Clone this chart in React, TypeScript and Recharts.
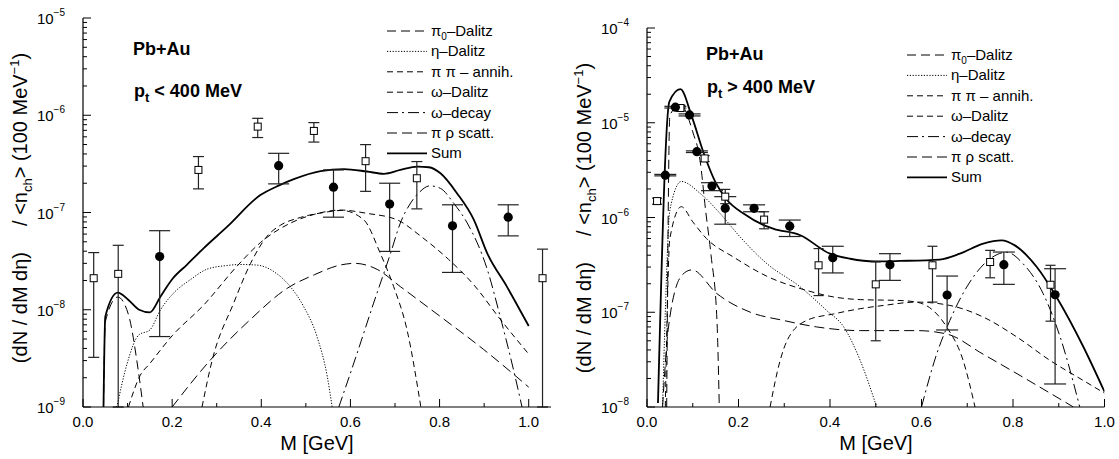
import React from 'react';
import { ComposedChart, ErrorBar, Line, Scatter, XAxis, YAxis } from 'recharts';

// Dilepton mass spectra, Pb+Au — two panels (pt < 400 MeV / pt > 400 MeV).
type Pt = [number, number]; // [M (GeV), dN/dM]
type Obs = [number, number, number, number]; // [M, value, low, high]

const FONT = '"Liberation Sans", Arial, Helvetica, sans-serif';

// ---- left panel: p_t < 400 MeV (curves end where they meet the 1e-9 frame) ----
const leftPi0: Pt[] = [[0.046, 1e-9], [0.05, 7.5e-9], [0.078, 1.35e-8], [0.102, 8.9e-9], [0.125, 2.2e-9], [0.135, 1e-9]];
const leftEta: Pt[] = [[0.076, 1e-9], [0.099, 2.8e-9], [0.125, 5.5e-9], [0.15, 6.2e-9], [0.174, 1e-8], [0.203, 1.48e-8], [0.241, 2.04e-8], [0.278, 2.61e-8], [0.323, 2.85e-8], [0.353, 2.92e-8], [0.39, 2.88e-8], [0.428, 2.47e-8], [0.465, 1.73e-8], [0.495, 1.08e-8], [0.525, 5.3e-9], [0.548, 2.06e-9], [0.559, 1e-9]];
const leftPiPi: Pt[] = [[0.267, 1e-9], [0.29, 3.05e-9], [0.338, 1.17e-8], [0.376, 3.0e-8], [0.413, 5.7e-8], [0.443, 7.4e-8], [0.488, 8.9e-8], [0.54, 1.0e-7], [0.58, 1.05e-7], [0.63, 8.4e-8], [0.667, 3.8e-8], [0.697, 1.73e-8], [0.727, 6.2e-9], [0.758, 1e-9]];
const leftOmDalitz: Pt[] = [[0.102, 1e-9], [0.128, 2.1e-9], [0.15, 2.8e-9], [0.2, 5.4e-9], [0.271, 1.12e-8], [0.346, 2.82e-8], [0.398, 4.9e-8], [0.466, 7.8e-8], [0.52, 9.6e-8], [0.578, 1.06e-7], [0.637, 9.8e-8], [0.705, 8.4e-8], [0.76, 5.6e-8], [0.82, 3.3e-8], [0.877, 1.8e-8], [0.936, 8e-9], [1.0, 3.5e-9]];
const leftOmDecay: Pt[] = [[0.574, 1e-9], [0.615, 3.57e-9], [0.652, 1.17e-8], [0.69, 3.8e-8], [0.712, 7.8e-8], [0.735, 1.25e-7], [0.755, 1.62e-7], [0.778, 1.88e-7], [0.802, 1.77e-7], [0.832, 1.24e-7], [0.862, 7.8e-8], [0.907, 2.6e-8], [0.936, 8.5e-9], [0.966, 2.4e-9], [0.985, 1e-9]];
const leftPiRho: Pt[] = [[0.2, 1e-9], [0.286, 3.05e-9], [0.375, 7.9e-9], [0.458, 1.66e-8], [0.52, 2.3e-8], [0.577, 2.88e-8], [0.61, 3.0e-8], [0.66, 2.6e-8], [0.712, 1.73e-8], [0.802, 8.5e-9], [0.899, 3.9e-9], [1.0, 1.6e-9]];
const leftSum: Pt[] = [[0.046, 1e-9], [0.05, 8.5e-9], [0.078, 1.5e-8], [0.102, 1.26e-8], [0.126, 1.0e-8], [0.15, 9.4e-9], [0.174, 1.37e-8], [0.2, 2.06e-8], [0.233, 2.9e-8], [0.271, 4.3e-8], [0.323, 7.1e-8], [0.398, 1.51e-7], [0.44, 1.9e-7], [0.473, 2.2e-7], [0.533, 2.66e-7], [0.585, 2.79e-7], [0.637, 2.64e-7], [0.675, 2.5e-7], [0.712, 2.74e-7], [0.75, 2.96e-7], [0.776, 2.92e-7], [0.802, 2.53e-7], [0.839, 1.58e-7], [0.877, 8.4e-8], [0.907, 3.8e-8], [0.951, 1.73e-8], [1.0, 6.8e-9]];
const leftSquares: Obs[] = [[0.024, 2.11e-8, 3.24e-9, 3.87e-8], [0.079, 2.34e-8, 1e-9, 4.6e-8], [0.259, 2.74e-7, 1.75e-7, 3.76e-7], [0.392, 7.64e-7, 5.9e-7, 9.3e-7], [0.518, 6.9e-7, 5.3e-7, 8.4e-7], [0.634, 3.37e-7, 1.65e-7, 4.99e-7], [0.749, 2.25e-7, 1.09e-7, 3.34e-7], [1.031, 2.11e-8, 1e-9, 4.2e-8]];
const leftCircles: Obs[] = [[0.172, 3.52e-8, 5.3e-9, 6.5e-8], [0.439, 3.03e-7, 1.97e-7, 4.06e-7], [0.562, 1.82e-7, 8.95e-8, 2.74e-7], [0.688, 1.22e-7, 3.98e-8, 2.0e-7], [0.829, 7.3e-8, 2.42e-8, 1.2e-7], [0.954, 8.95e-8, 5.75e-8, 1.2e-7]];

// ---- right panel: p_t > 400 MeV (curves end where they meet the 1e-8 frame) ----
const rightPi0: Pt[] = [[0.043, 1e-8], [0.05, 1.2e-5], [0.073, 1.55e-5], [0.1, 8e-6], [0.116, 4e-6], [0.128, 1.2e-6], [0.14, 4e-7], [0.153, 8e-8], [0.158, 1e-8]];
const rightEta: Pt[] = [[0.034, 1e-8], [0.04, 1e-7], [0.05, 1.2e-6], [0.075, 2.4e-6], [0.116, 1.8e-6], [0.16, 1.1e-6], [0.204, 6.2e-7], [0.262, 3.26e-7], [0.335, 1.85e-7], [0.393, 1.04e-7], [0.43, 7e-8], [0.466, 3.1e-8], [0.502, 1e-8]];
const rightPiPi: Pt[] = [[0.269, 1e-8], [0.291, 3.1e-8], [0.306, 5e-8], [0.349, 8.2e-8], [0.408, 9.6e-8], [0.466, 1.09e-7], [0.517, 1.18e-7], [0.589, 1.28e-7], [0.662, 1.18e-7], [0.735, 8.9e-8], [0.808, 5.5e-8], [0.881, 3.1e-8], [0.954, 1.9e-8], [1.0, 1.4e-8]];
const rightOmDalitz: Pt[] = [[0.04, 1e-8], [0.05, 6e-7], [0.075, 1.3e-6], [0.1, 9e-7], [0.13, 6e-7], [0.19, 3.8e-7], [0.262, 2.4e-7], [0.349, 1.7e-7], [0.408, 1.45e-7], [0.466, 1.36e-7], [0.553, 1.33e-7], [0.589, 1.28e-7], [0.625, 1.05e-7], [0.655, 7e-8], [0.691, 3.1e-8], [0.717, 1e-8]];
const rightOmDecay: Pt[] = [[0.6, 1e-8], [0.633, 3.6e-8], [0.662, 8.2e-8], [0.699, 1.85e-7], [0.75, 3.67e-7], [0.786, 4.3e-7], [0.822, 3.25e-7], [0.866, 1.57e-7], [0.903, 5.5e-8], [0.946, 1e-8]];
const rightPiRho: Pt[] = [[0.034, 1e-8], [0.047, 7e-8], [0.076, 2.45e-7], [0.098, 2.8e-7], [0.153, 1.57e-7], [0.226, 1e-7], [0.298, 8.2e-8], [0.371, 7e-8], [0.466, 6.4e-8], [0.59, 6.4e-8], [0.655, 5.9e-8], [0.735, 3.6e-8], [0.822, 2.06e-8], [0.932, 1e-8]];
const rightSum: Pt[] = [[0.024, 1.1e-8], [0.049, 1.67e-5], [0.073, 2.26e-5], [0.098, 1.16e-5], [0.124, 4.76e-6], [0.149, 2.39e-6], [0.175, 1.53e-6], [0.211, 1.1e-6], [0.255, 8.3e-7], [0.277, 7.6e-7], [0.335, 6.5e-7], [0.4, 4.15e-7], [0.444, 3.67e-7], [0.498, 3.44e-7], [0.553, 3.48e-7], [0.64, 3.6e-7], [0.684, 4.15e-7], [0.735, 5.3e-7], [0.775, 5.74e-7], [0.804, 5.08e-7], [0.852, 3.0e-7], [0.895, 1.45e-7], [0.954, 4.3e-8], [1.0, 1.45e-8]];
const rightSquares: Obs[] = [[0.022, 1.49e-6, 1.38e-6, 1.6e-6], [0.073, 1.43e-5, 1.33e-5, 1.53e-5], [0.126, 4.2e-6, 3.9e-6, 4.5e-6], [0.171, 1.66e-6, 1.4e-6, 1.98e-6], [0.256, 9.5e-7, 7.6e-7, 1.15e-6], [0.375, 3.13e-7, 1.5e-7, 4.7e-7], [0.5, 1.97e-7, 5.0e-8, 3.4e-7], [0.624, 3.13e-7, 1.28e-7, 4.97e-7], [0.75, 3.39e-7, 2.31e-7, 4.5e-7], [0.882, 1.95e-7, 8.05e-8, 3.13e-7]];
const rightCircles: Obs[] = [[0.04, 2.8e-6, 2.75e-6, 2.85e-6], [0.062, 1.46e-5, 1.43e-5, 1.49e-5], [0.093, 1.21e-5, 1.18e-5, 1.24e-5], [0.109, 4.95e-6, 4.85e-6, 5.05e-6], [0.142, 2.15e-6, 1.92e-6, 2.33e-6], [0.171, 1.25e-6, 8.5e-7, 1.66e-6], [0.234, 1.25e-6, 1.15e-6, 1.36e-6], [0.312, 8.1e-7, 6.3e-7, 9.4e-7], [0.406, 3.77e-7, 2.6e-7, 4.97e-7], [0.531, 3.18e-7, 2.17e-7, 4.15e-7], [0.656, 1.52e-7, 6.5e-8, 2.41e-7], [0.78, 3.18e-7, 1.97e-7, 4.32e-7], [0.892, 1.53e-7, 1.75e-8, 2.88e-7]];

// ---- axes ----
const xTicks = [0, 0.1, 0.2, 0.3, 0.4, 0.5, 0.6, 0.7, 0.8, 0.9, 1.0];
const mantissas = [1, 2, 3, 4, 5, 6, 7, 8, 9];
const leftDecades = [-9, -8, -7, -6, -5];
const rightDecades = [-8, -7, -6, -5, -4];
const decadeTicks = (decs: number[]) =>
  decs.flatMap((d, i) => (i === decs.length - 1 ? [Math.pow(10, d)] : mantissas.map((m) => m * Math.pow(10, d))));

const DASH = { pi0: '9 5', eta: '1.2 1.6', pipi: '6 4', omd: '6 4', omdec: '11 4 2 4', pirho: '10 5' };

const legendRows = [
  { key: 'pi0', dash: DASH.pi0, label: 'pi0' },
  { key: 'eta', dash: DASH.eta, label: 'η–Dalitz' },
  { key: 'pipi', dash: DASH.pipi, label: 'π π – annih.' },
  { key: 'omd', dash: DASH.omd, label: 'ω–Dalitz' },
  { key: 'omdec', dash: DASH.omdec, label: 'ω–decay' },
  { key: 'pirho', dash: DASH.pirho, label: 'π ρ scatt.' },
  { key: 'sum', dash: undefined, label: 'Sum' },
];

const rows = (pts: Pt[]) => pts.map(([m, v]) => ({ m, v }));
const obsRows = (pts: Obs[]) => pts.map(([m, v, lo, hi]) => ({ m, v, err: [v - lo, hi - v] }));

const LogTick = (props: any) => {
  const { x, y, payload, side } = props;
  const v = Number(payload.value);
  const lg = Math.log10(v);
  const major = Math.abs(lg - Math.round(lg)) < 1e-6;
  const len = major ? 8 : 4;
  const dir = side === 'left' ? 1 : -1;
  return (
    <g>
      <line x1={x} y1={y} x2={x + dir * len} y2={y} stroke="#000" strokeWidth={1} />
      {side === 'left' && major ? (
        <text x={x - 18} y={y + 6} textAnchor="end" fontFamily={FONT} fontSize={15} fill="#000">
          10<tspan dy={-8} fontSize={10}>{`−${-Math.round(lg)}`}</tspan>
        </text>
      ) : null}
    </g>
  );
};

const MTick = (props: any) => {
  const { x, y, payload, side } = props;
  const v = Number(payload.value);
  const major = Math.abs(v * 5 - Math.round(v * 5)) < 1e-6;
  const len = major ? 8 : 4;
  const dir = side === 'bottom' ? -1 : 1;
  return (
    <g>
      <line x1={x} y1={y} x2={x} y2={y + dir * len} stroke="#000" strokeWidth={1} />
      {side === 'bottom' && major ? (
        <text x={x} y={y + 20} textAnchor="middle" fontFamily={FONT} fontSize={15} fill="#000">
          {v.toFixed(1)}
        </text>
      ) : null}
    </g>
  );
};

const Square = (p: any) => (
  <rect x={p.cx - 3.5} y={p.cy - 3.5} width={7} height={7} fill="#fff" stroke="#000" strokeWidth={1} />
);
const Dot = (p: any) => <circle cx={p.cx} cy={p.cy} r={4.6} fill="#000" />;

interface PanelProps {
  width: number;
  yAxisWidth: number;
  right: number;
  top: number;
  xMax: number;
  decades: number[];
  curves: { pts: Pt[]; dash?: string; w?: number }[];
  squares: Obs[];
  circles: Obs[];
  sqCap: number;
  dotCap: number;
}

const AX = { stroke: '#000', strokeWidth: 1.2 };

const Panel: React.FC<PanelProps> = ({ width, yAxisWidth, right, top, xMax, decades, curves, squares, circles, sqCap, dotCap }) => {
  const yDomain = [Math.pow(10, decades[0]), Math.pow(10, decades[decades.length - 1])];
  const yTicks = decadeTicks(decades);
  return (
    <ComposedChart width={width} height={459} margin={{ top, right, left: 0, bottom: 0 }}>
      <XAxis dataKey="m" type="number" domain={[0, xMax]} allowDataOverflow ticks={xTicks} interval={0}
        height={52} tickSize={0} tickMargin={0} axisLine={AX}
        tick={(p: any) => <MTick {...p} side="bottom" />} />
      <XAxis xAxisId="top" orientation="top" dataKey="m" type="number" domain={[0, xMax]} allowDataOverflow
        ticks={xTicks} interval={0} height={0} tickSize={0} tickMargin={0} axisLine={AX}
        tick={(p: any) => <MTick {...p} side="top" />} />
      <YAxis type="number" scale="log" domain={yDomain} allowDataOverflow ticks={yTicks} interval={0}
        width={yAxisWidth} tickSize={0} tickMargin={0} axisLine={AX}
        tick={(p: any) => <LogTick {...p} side="left" />} />
      <YAxis yAxisId="r" orientation="right" type="number" scale="log" domain={yDomain} allowDataOverflow
        ticks={yTicks} interval={0} width={0} tickSize={0} tickMargin={0} axisLine={AX}
        tick={(p: any) => <LogTick {...p} side="right" />} />
      {curves.map((c, i) => (
        <Line key={i} data={rows(c.pts)} dataKey="v" type="monotone" stroke="#000" strokeWidth={c.w ?? 1}
          strokeDasharray={c.dash} dot={false} activeDot={false} isAnimationActive={false} />
      ))}
      <Scatter data={obsRows(squares)} dataKey="v" shape={Square} isAnimationActive={false}>
        <ErrorBar dataKey="err" direction="y" width={sqCap} stroke="#222" strokeWidth={1.2} isAnimationActive={false} />
      </Scatter>
      <Scatter data={obsRows(circles)} dataKey="v" shape={Dot} isAnimationActive={false}>
        <ErrorBar dataKey="err" direction="y" width={dotCap} stroke="#222" strokeWidth={1.2} isAnimationActive={false} />
      </Scatter>
    </ComposedChart>
  );
};

const Legend: React.FC<{ x: number; y: number }> = ({ x, y }) => (
  <g fontFamily={FONT} fontSize={15} fill="#000">
    {legendRows.map((r, i) => {
      const by = y + i * 20.4;
      return (
        <g key={r.key}>
          <line x1={x} x2={x + 40} y1={by - 5} y2={by - 5} stroke="#000" strokeWidth={r.key === 'sum' ? 1.8 : 1}
            strokeDasharray={r.dash} />
          <text x={x + 44} y={by}>
            {r.key === 'pi0' ? (
              <>π<tspan dy={4} fontSize={10}>0</tspan><tspan dy={-4}>–Dalitz</tspan></>
            ) : r.label}
          </text>
        </g>
      );
    })}
  </g>
);

const YTitle: React.FC<{ x: number; y: number }> = ({ x, y }) => (
  <text transform={`translate(${x},${y}) rotate(-90)`} textAnchor="middle" fontFamily={FONT} fontSize={20} fill="#000">
    (dN / dM dη)<tspan dx={26}>/ &lt;n</tspan><tspan dy={5} fontSize={13}>ch</tspan>
    <tspan dy={-5}>&gt; (100 MeV</tspan><tspan dy={-8} fontSize={13}>−1</tspan><tspan dy={8}>)</tspan>
  </text>
);

const Labels: React.FC<{ x: number; y1: number; y2: number; sign: string }> = ({ x, y1, y2, sign }) => (
  <g fontFamily={FONT} fontSize={18} fontWeight="bold" fill="#000">
    <text x={x} y={y1}>Pb+Au</text>
    <text x={x + 1} y={y2}>p<tspan dy={5} fontSize={13}>t</tspan><tspan dy={-5}>{` ${sign} 400 MeV`}</tspan></text>
  </g>
);

export default function App() {
  const lines = (set: Pt[][]) => [
    { pts: set[0], dash: DASH.pi0 },
    { pts: set[1], dash: DASH.eta },
    { pts: set[2], dash: DASH.pipi },
    { pts: set[3], dash: DASH.omd },
    { pts: set[4], dash: DASH.omdec },
    { pts: set[5], dash: DASH.pirho },
    { pts: set[6], w: 1.8 },
  ];
  return (
    <div style={{ position: 'absolute', left: 0, top: 0, width: 1119, height: 459, background: '#fff', fontFamily: FONT }}>
      <div style={{ position: 'absolute', left: 0, top: 0 }}>
        <Panel width={560} yAxisWidth={83} right={9} top={18} xMax={1.05} decades={leftDecades}
          curves={lines([leftPi0, leftEta, leftPiPi, leftOmDalitz, leftOmDecay, leftPiRho, leftSum])}
          squares={leftSquares} circles={leftCircles} sqCap={5.5} dotCap={10.5} />
      </div>
      <div style={{ position: 'absolute', left: 560, top: 0 }}>
        <Panel width={559} yAxisWidth={87} right={14.5} top={28} xMax={1.0} decades={rightDecades}
          curves={lines([rightPi0, rightEta, rightPiPi, rightOmDalitz, rightOmDecay, rightPiRho, rightSum])}
          squares={rightSquares} circles={rightCircles} sqCap={5} dotCap={11} />
      </div>
      <svg width={1119} height={459} style={{ position: 'absolute', left: 0, top: 0, pointerEvents: 'none' }}>
        <Labels x={133} y1={55} y2={97} sign="<" />
        <Labels x={706} y1={60} y2={93} sign=">" />
        <Legend x={387} y={36} />
        <Legend x={907} y={60} />
        <text x={317} y={450} textAnchor="middle" fontFamily={FONT} fontSize={20}>M [GeV]</text>
        <text x={876} y={450} textAnchor="middle" fontFamily={FONT} fontSize={20}>M [GeV]</text>
        <YTitle x={27} y={208} />
        <YTitle x={591} y={218} />
      </svg>
    </div>
  );
}
